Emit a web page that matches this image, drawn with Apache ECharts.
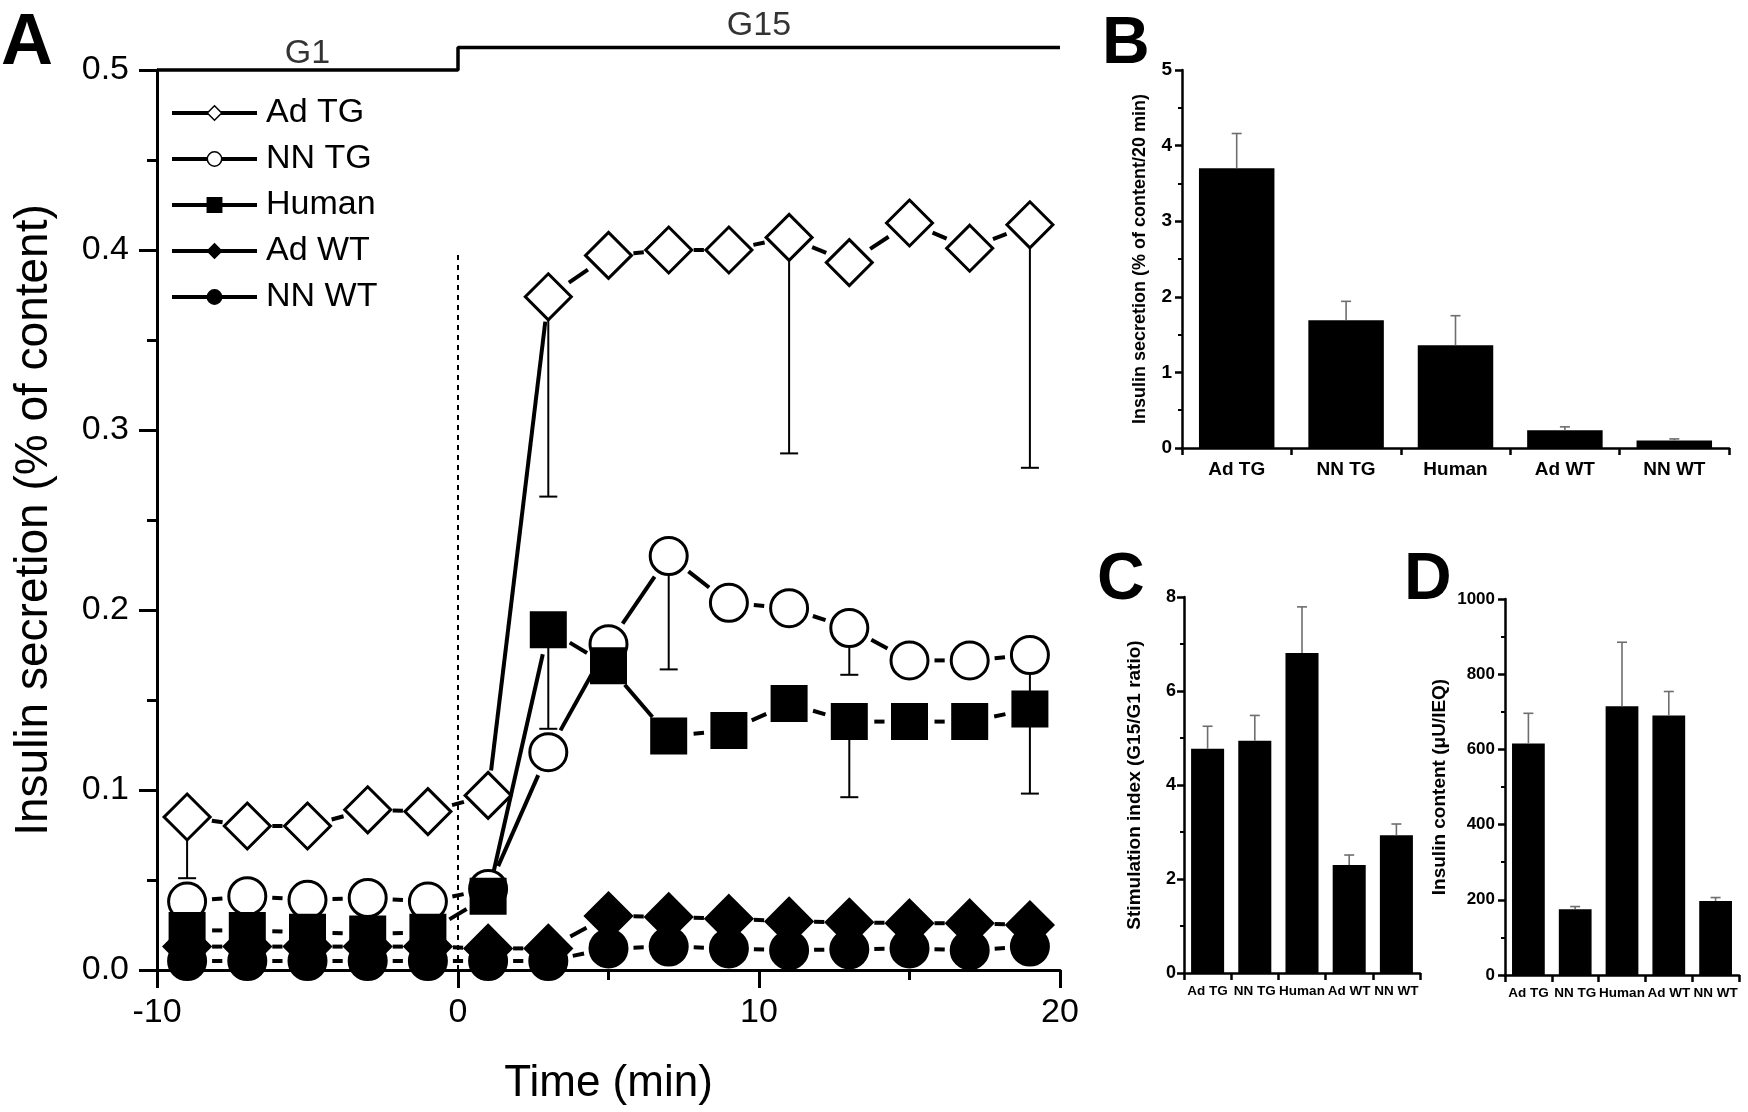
<!DOCTYPE html>
<html><head><meta charset="utf-8">
<script src="https://cdn.jsdelivr.net/npm/echarts@6/dist/echarts.min.js"></script>
<style>html,body{margin:0;padding:0;background:#fff}#c{width:1748px;height:1112px}</style>
</head><body><div id="c"></div>
<script>
// ---------- Panel A data ----------
const times = [-9,-7,-5,-3,-1,1,3,5,7,9,11,13,15,17,19];
const seriesNames = ['Ad TG','NN TG','Human','Ad WT','NN WT'];
const adTG  = [0.085,0.080,0.080,0.089,0.088,0.097,0.374,0.397,0.400,0.400,0.407,0.393,0.415,0.401,0.414];
const nnTG  = [0.038,0.041,0.039,0.040,0.038,0.045,0.121,0.181,0.230,0.204,0.201,0.190,0.172,0.172,0.175];
const human = [0.022,0.022,0.021,0.020,0.021,0.041,0.189,0.169,0.130,0.133,0.148,0.138,0.138,0.138,0.145];
const adWT  = [0.013,0.013,0.013,0.013,0.013,0.012,0.012,0.030,0.0295,0.0285,0.027,0.0265,0.026,0.026,0.025];
const nnWT  = [0.005,0.005,0.005,0.005,0.005,0.005,0.005,0.012,0.013,0.012,0.011,0.0115,0.012,0.011,0.013];
// lower ends of the visible error bars (null = not visible)
const adTGLow  = [0.051,null,null,null,null,null,0.263,null,null,null,0.287,null,null,null,0.279];
const nnTGLow  = [null,null,null,0.032,null,null,null,null,0.167,null,null,0.164,null,null,0.150];
const humanLow = [null,null,null,null,null,null,0.134,null,null,null,null,0.096,null,null,0.098];
// glucose step annotation
const stepX = [-10, 0, 0, 20];
const stepY = [0.5, 0.5, 0.5125, 0.5125];
const phaseNames = ['G1','G15'];
const phaseX = [-5, 10];
const phaseY = [0.5, 0.5125];
const switchX = [0, 0];
const switchY = [0, 0.4];

// ---------- Panels B, C, D data ----------
const groups = ['Ad TG','NN TG','Human','Ad WT','NN WT'];
const secretion   = [3.70, 1.69, 1.36, 0.235, 0.098];
const secretionUp = [4.16, 1.94, 1.75, 0.28, 0.12];
const stimIndex   = [4.77, 4.94, 6.81, 2.30, 2.93];
const stimIndexUp = [5.25, 5.48, 7.79, 2.51, 3.17];
const content     = [616, 175, 715, 690, 197];
const contentUp   = [696, 182, 885, 754, 206];

const FONT = 'Liberation Sans, Arial, Helvetica, sans-serif';

const values = [adTG, nnTG, human, adWT, nnWT];
const lows = [adTGLow, nnTGLow, humanLow, null, null];
const markerDefs = [
  {symbol:'diamond', size:[46,46], fill:'#fff'},
  {symbol:'circle',  size:[37,37], fill:'#fff'},
  {symbol:'rect',    size:[34,34], fill:'#000'},
  {symbol:'diamond', size:[46,46], fill:'#000'},
  {symbol:'circle',  size:[37,37], fill:'#000'}
];

const chart = echarts.init(document.getElementById('c'), null, {renderer:'canvas'});

const series = [];

// connecting segments with gaps around markers (Origin style)
values.forEach((vals, k) => {
  const data = times.slice(0, -1).map((t, i) => [t, vals[i], times[i+1], vals[i+1]]);
  series.push({
    type:'custom', xAxisIndex:0, yAxisIndex:0, z:2, silent:true, data,
    encode:{x:[0,2], y:[1,3]},
    renderItem:(p, api) => {
      const a = api.coord([api.value(0), api.value(1)]);
      const b = api.coord([api.value(2), api.value(3)]);
      const dx = b[0]-a[0], dy = b[1]-a[1];
      const L = Math.hypot(dx, dy);
      const R = 25;
      if (L <= 2*R + 1) return {type:'group', children:[]};
      const ux = dx/L, uy = dy/L;
      return {type:'line', shape:{x1:a[0]+ux*R, y1:a[1]+uy*R, x2:b[0]-ux*R, y2:b[1]-uy*R},
              style:{stroke:'#000', lineWidth:4}};
    }
  });
});

// error bars, panel A
lows.forEach((lo, k) => {
  if (!lo) return;
  const data = [];
  times.forEach((t, i) => { if (lo[i] != null) data.push([t, values[k][i], lo[i]]); });
  series.push({
    type:'custom', xAxisIndex:0, yAxisIndex:0, z:1, silent:true, data,
    encode:{x:0, y:[1,2]},
    renderItem:(p, api) => {
      const a = api.coord([api.value(0), api.value(1)]);
      const b = api.coord([api.value(0), api.value(2)]);
      return {type:'group', children:[
        {type:'line', shape:{x1:a[0], y1:a[1], x2:b[0], y2:b[1]}, style:{stroke:'#000', lineWidth:2}},
        {type:'line', shape:{x1:b[0]-9, y1:b[1], x2:b[0]+9, y2:b[1]}, style:{stroke:'#000', lineWidth:2}}
      ]};
    }
  });
});

// markers (line series so the legend shows line + symbol)
values.forEach((vals, k) => {
  const m = markerDefs[k];
  series.push({
    type:'line', name:seriesNames[k], xAxisIndex:0, yAxisIndex:0, z:3+k,
    data: times.map((t, i) => [t, vals[i]]),
    symbol:m.symbol, symbolSize:m.size, showAllSymbol:true, showSymbol:true,
    itemStyle:{color:m.fill, borderColor:'#000', borderWidth:3},
    lineStyle:{opacity:0, width:4, color:'#000'},
    emphasis:{disabled:true}, silent:true
  });
});

// G1 / G15 step line
series.push({
  type:'line', xAxisIndex:0, yAxisIndex:0, clip:false, silent:true, symbol:'none', z:5,
  data: stepX.map((x, i) => [x, stepY[i]]),
  lineStyle:{color:'#000', width:3.5}
});
series.push({
  type:'scatter', xAxisIndex:0, yAxisIndex:0, clip:false, silent:true, symbolSize:0, z:5,
  data: phaseNames.map((n, i) => ({value:[phaseX[i], phaseY[i]], name:n,
        label:{distance: i === 0 ? -1 : 5}})),
  label:{show:true, position:'top', formatter:p => p.name, fontSize:34, color:'#000', fontFamily:FONT}
});
// dotted switch line at t = 0
series.push({
  type:'line', xAxisIndex:0, yAxisIndex:0, silent:true, symbol:'none', z:1,
  data: switchX.map((x, i) => [x, switchY[i]]),
  lineStyle:{color:'#000', width:2, type:[5,5]}
});

// bar panels
const barPanels = [
  {idx:1, vals:secretion, up:secretionUp, width:'69%'},
  {idx:2, vals:stimIndex, up:stimIndexUp, width:'70%'},
  {idx:3, vals:content, up:contentUp, width:'70%'}
];
barPanels.forEach(bp => {
  series.push({type:'bar', xAxisIndex:bp.idx, yAxisIndex:bp.idx, data:bp.vals, barWidth:bp.width,
    itemStyle:{color:'#000'}, silent:true, z:2});
  series.push({
    type:'custom', xAxisIndex:bp.idx, yAxisIndex:bp.idx, silent:true, z:3,
    data: bp.vals.map((v, i) => [i, v, bp.up[i]]),
    encode:{x:0, y:[1,2]},
    renderItem:(p, api) => {
      const a = api.coord([api.value(0), api.value(1)]);
      const b = api.coord([api.value(0), api.value(2)]);
      return {type:'group', children:[
        {type:'line', shape:{x1:a[0], y1:a[1], x2:b[0], y2:b[1]}, style:{stroke:'#6e6e6e', lineWidth:1.6}},
        {type:'line', shape:{x1:b[0]-5, y1:b[1], x2:b[0]+5, y2:b[1]}, style:{stroke:'#6e6e6e', lineWidth:1.6}}
      ]};
    }
  });
});

function catAxis(grid, fontSize, margin) {
  return {type:'category', gridIndex:grid, data:groups,
    axisLine:{show:true, onZero:false, lineStyle:{color:'#000', width:2.5}},
    axisTick:{show:true, length:7, alignWithLabel:false, lineStyle:{color:'#000', width:2.5}},
    axisLabel:{show:true, interval:0, fontSize, fontWeight:'bold', color:'#000', fontFamily:FONT, margin,
      hideOverlap:false},
    splitLine:{show:false}};
}
function valAxis(grid, max, interval, name, nameGap, nameSize, labelSize, margin) {
  return {type:'value', gridIndex:grid, min:0, max, interval,
    axisLine:{show:true, lineStyle:{color:'#000', width:2.5}},
    axisTick:{show:true, length:7, lineStyle:{color:'#000', width:2.5}},
    minorTick:{show:true, splitNumber:2, length:4, lineStyle:{color:'#000', width:2}},
    splitLine:{show:false}, minorSplitLine:{show:false},
    axisLabel:{show:true, fontSize:labelSize, fontWeight:'bold', color:'#000', fontFamily:FONT, margin,
      showMinLabel:true, showMaxLabel:true, formatter:v => String(v)},
    name, nameLocation:'middle', nameGap, nameRotate:90,
    nameTextStyle:{fontSize:nameSize, fontWeight:'bold', color:'#000', fontFamily:FONT}};
}

const option = {
  animation:false,
  backgroundColor:'#fff',
  grid:[
    {left:157, top:70, width:903, height:900, outerBoundsMode:'none', containLabel:false},
    {left:1182, top:70, width:547, height:378, outerBoundsMode:'none', containLabel:false},
    {left:1184, top:597, width:236, height:376, outerBoundsMode:'none', containLabel:false},
    {left:1505, top:599, width:234, height:376, outerBoundsMode:'none', containLabel:false}
  ],
  xAxis:[
    {type:'value', gridIndex:0, min:-10, max:20, interval:10,
      axisLine:{show:true, onZero:false, lineStyle:{color:'#000', width:3}},
      axisTick:{show:true, length:18, lineStyle:{color:'#000', width:3}},
      minorTick:{show:true, splitNumber:2, length:10, lineStyle:{color:'#000', width:3}},
      splitLine:{show:false}, minorSplitLine:{show:false},
      axisLabel:{fontSize:34, color:'#000', fontFamily:FONT, margin:26, showMinLabel:true, showMaxLabel:true},
      name:'Time (min)', nameLocation:'middle', nameGap:92,
      nameTextStyle:{fontSize:44, color:'#000', fontFamily:FONT}},
    catAxis(1, 19, 12),
    catAxis(2, 13.5, 11),
    catAxis(3, 13.5, 11)
  ],
  yAxis:[
    {type:'value', gridIndex:0, min:0, max:0.5, interval:0.1,
      axisLine:{show:true, onZero:false, lineStyle:{color:'#000', width:3}},
      axisTick:{show:true, length:18, lineStyle:{color:'#000', width:3}},
      minorTick:{show:true, splitNumber:2, length:10, lineStyle:{color:'#000', width:3}},
      splitLine:{show:false}, minorSplitLine:{show:false},
      axisLabel:{fontSize:34, color:'#000', fontFamily:FONT, margin:28, showMinLabel:true, showMaxLabel:true,
        formatter:v => v.toFixed(1)},
      name:'Insulin secretion (% of content)', nameLocation:'middle', nameGap:100, nameRotate:90,
      nameTextStyle:{fontSize:46, color:'#000', fontFamily:FONT}},
    valAxis(1, 5, 1, 'Insulin secretion (% of content/20 min)', 33, 18, 19, 10),
    valAxis(2, 8, 2, 'Stimulation index (G15/G1 ratio)', 40, 19, 18, 8),
    valAxis(3, 1000, 200, 'Insulin content (\u03bcU/IEQ)', 56, 19, 17, 10)
  ],
  legend:{
    data:seriesNames, orient:'vertical', left:170, top:96, padding:0,
    itemWidth:85, itemHeight:18, itemGap:12, selectedMode:false,
    textStyle:{fontSize:34, color:'#000', fontFamily:FONT, padding:[0,0,0,4]},
    lineStyle:{color:'#000', width:4, opacity:1, type:'solid'},
    itemStyle:{borderWidth:1.5, borderColor:'#000'}
  },
  graphic:[
    {type:'text', x:1, y:8, style:{text:'A', font:'bold 72px ' + FONT, fill:'#000', verticalAlign:'top'}},
    {type:'text', x:1102, y:12, style:{text:'B', font:'bold 66px ' + FONT, fill:'#000', verticalAlign:'top'}},
    {type:'text', x:1097, y:548, style:{text:'C', font:'bold 66px ' + FONT, fill:'#000', verticalAlign:'top'}},
    {type:'text', x:1404, y:548, style:{text:'D', font:'bold 66px ' + FONT, fill:'#000', verticalAlign:'top'}}
  ],
  series
};
chart.setOption(option);
</script>
</body></html>
